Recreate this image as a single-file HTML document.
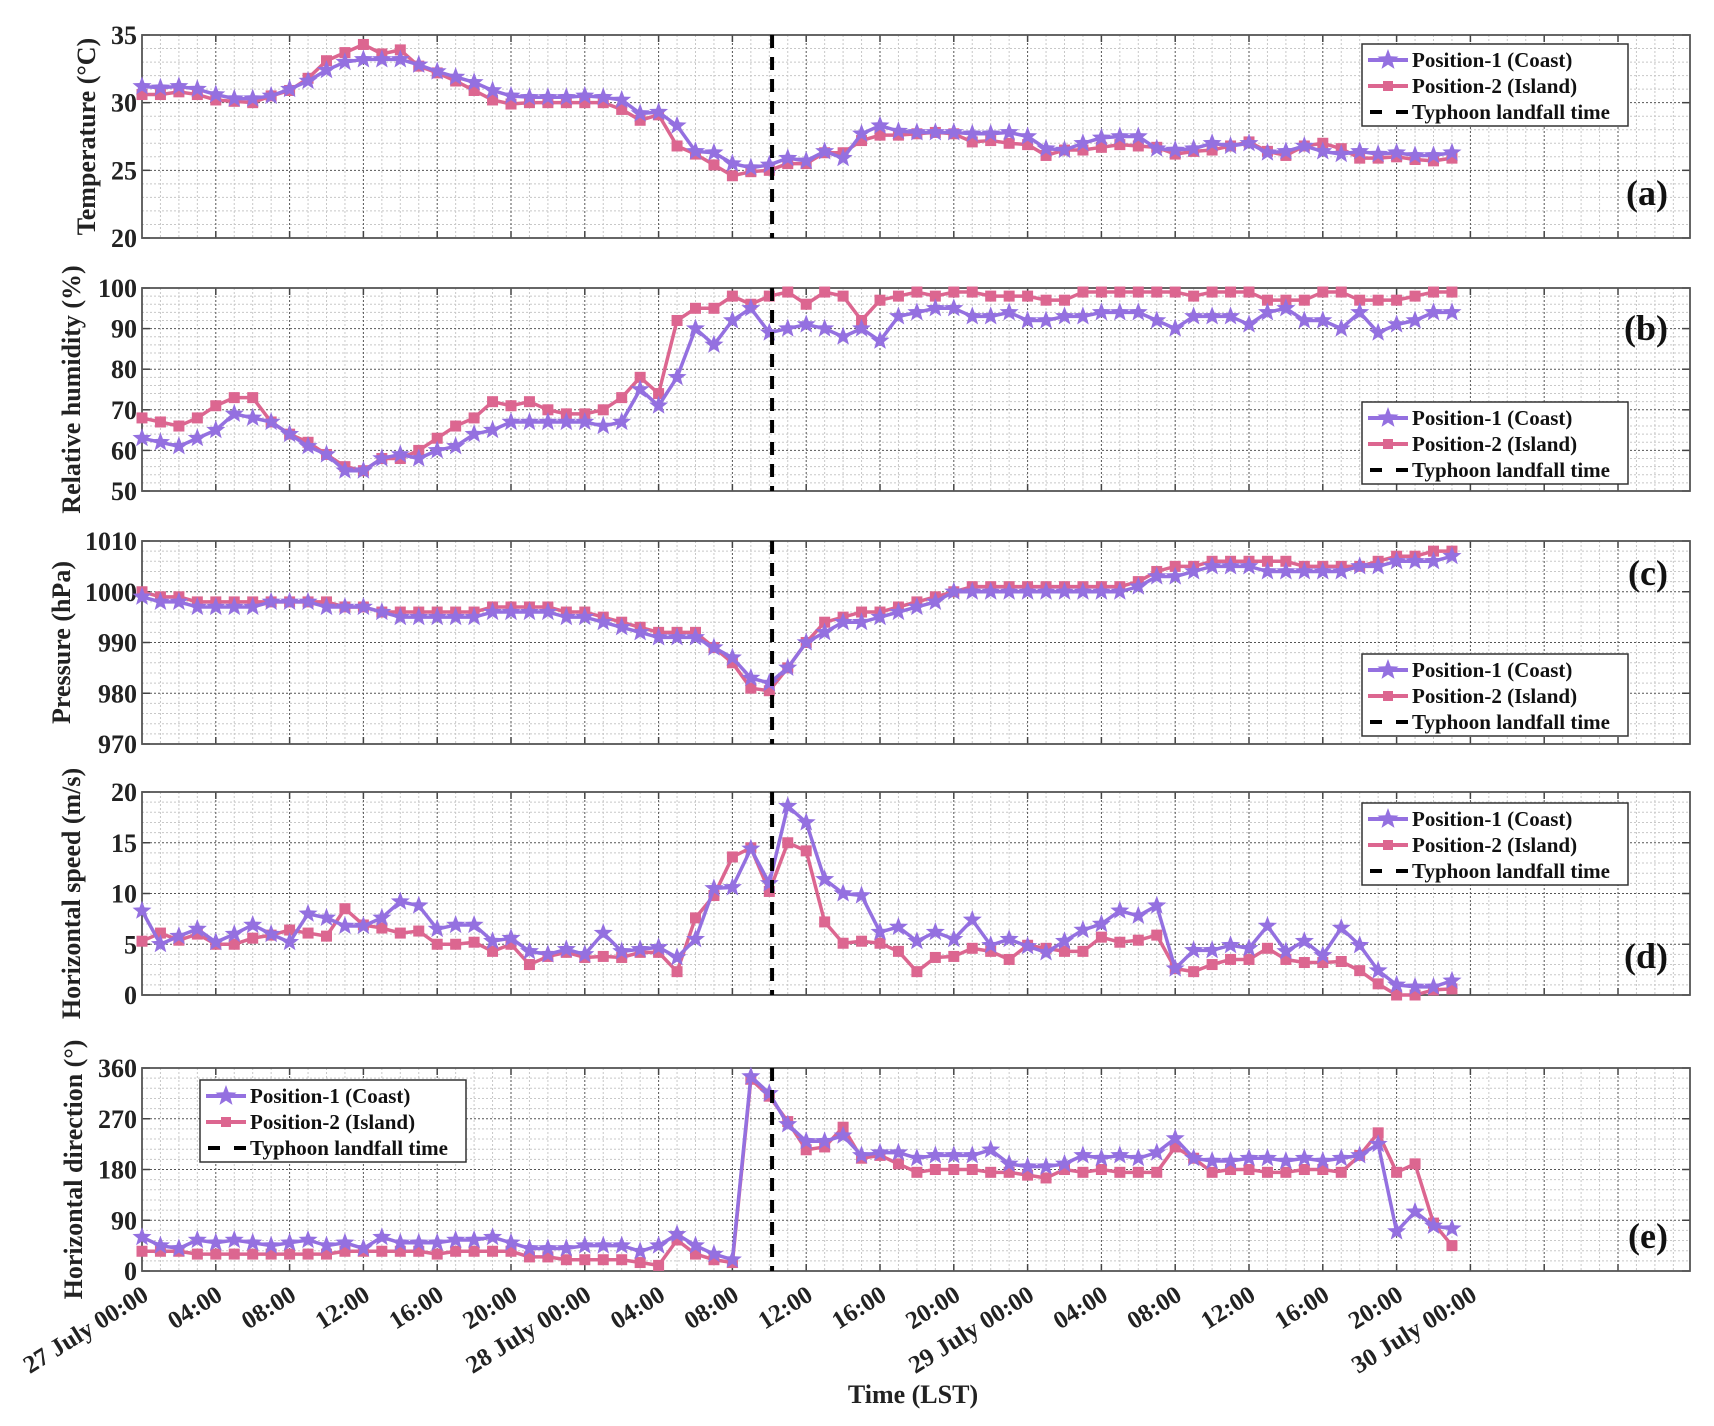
<!DOCTYPE html>
<html><head><meta charset="utf-8"><style>
html,body{margin:0;padding:0;background:#fff;}
svg{display:block;font-family:"Liberation Serif",serif;font-weight:bold;}
</style></head><body>
<svg id="chart" width="1714" height="1426" viewBox="0 0 1714 1426" xmlns="http://www.w3.org/2000/svg"></svg>
<script>
const hours = Array.from({length:72},(_,i)=>i);
const tickLabels = ["27 July 00:00","04:00","08:00","12:00","16:00","20:00","28 July 00:00","04:00","08:00","12:00","16:00","20:00","29 July 00:00","04:00","08:00","12:00","16:00","20:00","30 July 00:00"];
const landfallHour = 34.15;

const tempCoast = [31.2,31.1,31.2,31,30.6,30.3,30.3,30.5,31,31.6,32.4,33,33.2,33.2,33.2,32.8,32.3,31.9,31.5,30.9,30.5,30.4,30.4,30.4,
30.5,30.4,30.2,29.2,29.3,28.3,26.4,26.3,25.5,25.2,25.4,25.9,25.7,26.4,25.9,27.7,28.3,27.9,27.8,27.8,27.8,27.7,27.7,27.8,
27.5,26.6,26.5,27.0,27.4,27.5,27.5,26.6,26.5,26.6,27.0,26.8,27.0,26.3,26.4,26.8,26.4,26.2,26.4,26.2,26.3,26.1,26.1,26.3];
const tempIsland = [30.6,30.6,30.8,30.6,30.2,30.1,30.0,30.5,30.9,31.8,33.1,33.7,34.3,33.6,33.9,32.7,32.2,31.6,30.9,30.2,29.9,30.0,30.0,30.0,
30.0,30.0,29.5,28.7,29.1,26.8,26.2,25.4,24.6,24.9,25.0,25.5,25.5,26.3,26.3,27.2,27.6,27.6,27.7,27.8,27.7,27.1,27.2,27.0,
26.9,26.1,26.5,26.5,26.7,26.9,26.8,26.7,26.2,26.4,26.5,26.8,27.1,26.4,26.1,26.8,27.0,26.6,25.9,25.9,26.0,25.8,25.7,25.9];
const rhCoast = [63,62,61,63,65,69,68,67,64,61,59,55,55,58,59,58,60,61,64,65,67,67,67,67,
67,66,67,75,71,78,90,86,92,95,89,90,91,90,88,90,87,93,94,95,95,93,93,94,
92,92,93,93,94,94,94,92,90,93,93,93,91,94,95,92,92,90,94,89,91,92,94,94];
const rhIsland = [68,67,66,68,71,73,73,67,64,62,59,56,55,58,58,60,63,66,68,72,71,72,70,69,
69,70,73,78,74,92,95,95,98,96,98,99,96,99,98,92,97,98,99,98,99,99,98,98,
98,97,97,99,99,99,99,99,99,98,99,99,99,97,97,97,99,99,97,97,97,98,99,99];
const presCoast = [999,998,998,997,997,997,997,998,998,998,997,997,997,996,995,995,995,995,995,996,996,996,996,995,
995,994,993,992,991,991,991,989,987,983,982,985,990,992,994,994,995,996,997,998,1000,1000,1000,1000,
1000,1000,1000,1000,1000,1000,1001,1003,1003,1004,1005,1005,1005,1004,1004,1004,1004,1004,1005,1005,1006,1006,1006,1007];
const presIsland = [1000,999,999,998,998,998,998,998,998,998,998,997,997,996,996,996,996,996,996,997,997,997,997,996,
996,995,994,993,992,992,992,989,986,981,980.5,985,990,994,995,996,996,997,998,999,1000,1001,1001,1001,
1001,1001,1001,1001,1001,1001,1002,1004,1005,1005,1006,1006,1006,1006,1006,1005,1005,1005,1005,1006,1007,1007,1008,1008];
const speedCoast = [8.3,5.0,5.8,6.5,5.2,6.0,6.9,6.0,5.2,8.0,7.6,6.8,6.8,7.6,9.2,8.8,6.5,6.9,6.9,5.3,5.6,4.3,4.0,4.5,
4.0,6.1,4.3,4.5,4.7,3.7,5.5,10.5,10.6,14.4,11.0,18.6,17.0,11.4,10.0,9.8,6.2,6.7,5.3,6.2,5.5,7.4,4.9,5.5,
4.8,4.2,5.3,6.4,7.0,8.3,7.8,8.8,2.6,4.4,4.4,4.9,4.6,6.8,4.3,5.3,3.9,6.6,4.9,2.4,1.0,0.8,0.8,1.4];
const speedIsland = [5.3,6.1,5.4,6.0,5.0,5.0,5.6,5.9,6.4,6.1,5.8,8.5,6.9,6.6,6.1,6.3,5.0,5.0,5.2,4.3,5.0,3.0,3.8,4.2,
3.7,3.8,3.7,4.2,4.2,2.3,7.6,9.8,13.6,14.5,10.2,15.0,14.2,7.2,5.1,5.3,5.1,4.3,2.3,3.7,3.8,4.6,4.3,3.5,
4.9,4.6,4.3,4.3,5.7,5.2,5.4,5.9,2.6,2.3,3.0,3.5,3.5,4.6,3.5,3.2,3.2,3.3,2.4,1.1,0.0,0.0,0.5,0.6];
const dirCoast = [60,45,40,55,50,55,50,45,50,55,45,50,40,60,50,50,50,55,55,60,50,40,40,40,
45,45,45,35,45,65,45,30,20,345,315,260,230,230,240,205,210,210,200,205,205,205,215,190,
185,185,190,205,200,205,200,210,235,200,195,195,200,200,195,200,195,200,205,225,70,105,80,75];
const dirIsland = [35,35,35,30,30,30,30,30,30,30,30,35,35,35,35,35,30,35,35,35,35,25,25,20,
20,20,20,15,10,55,30,20,15,340,310,265,215,220,255,200,205,190,175,180,180,180,175,175,
170,165,180,175,180,175,175,175,220,200,175,180,180,175,175,180,180,175,205,245,175,190,85,45];

const panels = [
 {key:'temperature',top:35,min:20,max:35,ticks:[20,25,30,35],minor:1,title:'Temperature (°C)',a:tempCoast,b:tempIsland,label:'(a)',labelY:170,legend:[1362,44]},
 {key:'humidity',top:288,min:50,max:100,ticks:[50,60,70,80,90,100],minor:2,title:'Relative humidity (%)',a:rhCoast,b:rhIsland,label:'(b)',labelY:52,legend:[1362,402]},
 {key:'pressure',top:541,min:970,max:1010,ticks:[970,980,990,1000,1010],minor:2,title:'Pressure (hPa)',a:presCoast,b:presIsland,label:'(c)',labelY:44,legend:[1362,654]},
 {key:'speed',top:792,min:0,max:20,ticks:[0,5,10,15,20],minor:1,title:'Horizontal speed (m/s)',a:speedCoast,b:speedIsland,label:'(d)',labelY:176,legend:[1362,803]},
 {key:'direction',top:1068,min:0,max:360,ticks:[0,90,180,270,360],minor:18,title:'Horizontal direction (°)',a:dirCoast,b:dirIsland,label:'(e)',labelY:180,legend:[200,1080]}
];
const X0=142, XR=1690, PXH=18.45, H=203;
const C1='#9470e0', C2='#dc6690';
const svg=document.getElementById('chart');
const NS='http://www.w3.org/2000/svg';
function mk(tag,attrs,parent){const e=document.createElementNS(NS,tag);for(const k in attrs)e.setAttribute(k,attrs[k]);(parent||svg).appendChild(e);return e;}
const xs=h=>X0+h*PXH;
function starPts(cx,cy,r){let p=[];for(let i=0;i<10;i++){const rr=i%2?r*0.42:r;const a=-Math.PI/2+i*Math.PI/5;p.push((cx+rr*Math.cos(a)).toFixed(1)+','+(cy+rr*Math.sin(a)).toFixed(1));}return p.join(' ');}

panels.forEach(p=>{
  const g=mk('g',{});
  
  
  const ys=v=>p.top+H-(v-p.min)/(p.max-p.min)*H;
  for(let h=1;h<84;h++){ if(h%4) { mk('line',{x1:xs(h),x2:xs(h),y1:p.top,y2:p.top+H,stroke:'#c8c8c8','stroke-width':1,'stroke-dasharray':'2,2'},g); } }
  for(let v=p.min+p.minor;v<p.max;v+=p.minor){ if(!p.ticks.includes(v)) mk('line',{x1:X0,x2:XR,y1:ys(v),y2:ys(v),stroke:'#c8c8c8','stroke-width':1,'stroke-dasharray':'2,2'},g); }
  for(let h=4;h<84;h+=4){ mk('line',{x1:xs(h),x2:xs(h),y1:p.top,y2:p.top+H,stroke:'#555','stroke-width':1,'stroke-dasharray':'2,2'},g);
    mk('line',{x1:xs(h),x2:xs(h),y1:p.top,y2:p.top+7,stroke:'#444','stroke-width':1.5},g);
    mk('line',{x1:xs(h),x2:xs(h),y1:p.top+H-7,y2:p.top+H,stroke:'#444','stroke-width':1.5},g);}
  p.ticks.forEach(v=>{ if(v>p.min&&v<p.max) mk('line',{x1:X0,x2:XR,y1:ys(v),y2:ys(v),stroke:'#555','stroke-width':1,'stroke-dasharray':'2,2'},g);
    mk('line',{x1:X0,x2:X0+8,y1:ys(v),y2:ys(v),stroke:'#444','stroke-width':1.5},g);
    mk('line',{x1:XR-8,x2:XR,y1:ys(v),y2:ys(v),stroke:'#444','stroke-width':1.5},g);
    const t=mk('text',{x:X0-5,y:ys(v)+9,'text-anchor':'end','font-size':26,fill:'#222'},g); t.textContent=v;
     });
  const fr=mk('rect',{x:X0,y:p.top,width:XR-X0,height:H,fill:'none',stroke:'#555','stroke-width':1.8},g);
   
  const tx=p.key==='temperature'?95:(p.key==='pressure'?70:(p.key==='direction'?82:80));
  const yt=mk('text',{x:0,y:0,'text-anchor':'middle','font-size':26,fill:'#222',transform:`translate(${tx},${p.top+H/2}) rotate(-90)`},g);
  yt.textContent=p.title;  
  [[p.a,C1,'star','series-coast'],[p.b,C2,'sq','series-island']].reverse().forEach(([arr,c,m,n])=>{
    const sg=mk('g',{},g);  
    mk('polyline',{points:arr.map((v,i)=>xs(hours[i])+','+ys(v)).join(' '),fill:'none',stroke:c,'stroke-width':3.5,'stroke-linejoin':'round'},sg);
    arr.forEach((v,i)=>{ if(m==='star'){mk('polygon',{points:starPts(xs(hours[i]),ys(v),10),fill:c},sg);}
      else {mk('rect',{x:xs(hours[i])-5.5,y:ys(v)-5.5,width:11,height:11,fill:c},sg);} });
  });
  const d=mk('line',{x1:xs(landfallHour),x2:xs(landfallHour),y1:p.top,y2:p.top+H,stroke:'#000','stroke-width':4,'stroke-dasharray':'13,9'},g);
   
  const pl=mk('text',{x:1668,y:p.top+p.labelY,'text-anchor':'end','font-size':36,fill:'#111'},g);
  pl.textContent=p.label;  
  const [lx,ly]=p.legend;
  const lg=mk('g',{},g);  
  mk('rect',{x:lx,y:ly,width:266,height:82,fill:'#fff',stroke:'#333','stroke-width':1.5},lg);
  const items=[['Position-1 (Coast)',C1,'star'],['Position-2 (Island)',C2,'sq'],['Typhoon landfall time','#000','dash']];
  items.forEach((it,k)=>{const cy=ly+16+k*26;
    const e=mk('g',{},lg);  
    if(it[2]==='dash'){mk('line',{x1:lx+8,x2:lx+46,y1:cy,y2:cy,stroke:'#000','stroke-width':4,'stroke-dasharray':'12,14'},e);}
    else{mk('line',{x1:lx+6,x2:lx+46,y1:cy,y2:cy,stroke:it[1],'stroke-width':4},e);
      if(it[2]==='star')mk('polygon',{points:starPts(lx+26,cy,11),fill:it[1]},e); else mk('rect',{x:lx+21,y:cy-5,width:10,height:10,fill:it[1]},e);}
    const t=mk('text',{x:lx+50,y:cy+7,'font-size':21,fill:'#111'},e); t.textContent=it[0];});
});
const last=panels[4].top+H;
tickLabels.forEach((s,i)=>{const x=xs(i*4)+8;const y=last+28;const t=mk('text',{x:x,y:y,'text-anchor':'end','font-size':25,fill:'#222',transform:`rotate(-32 ${x} ${y})`});t.textContent=s;
   });
const xt=mk('text',{x:913,y:1403,'text-anchor':'middle','font-size':26,fill:'#222'});xt.textContent='Time (LST)';
 
</script>
</body></html>
